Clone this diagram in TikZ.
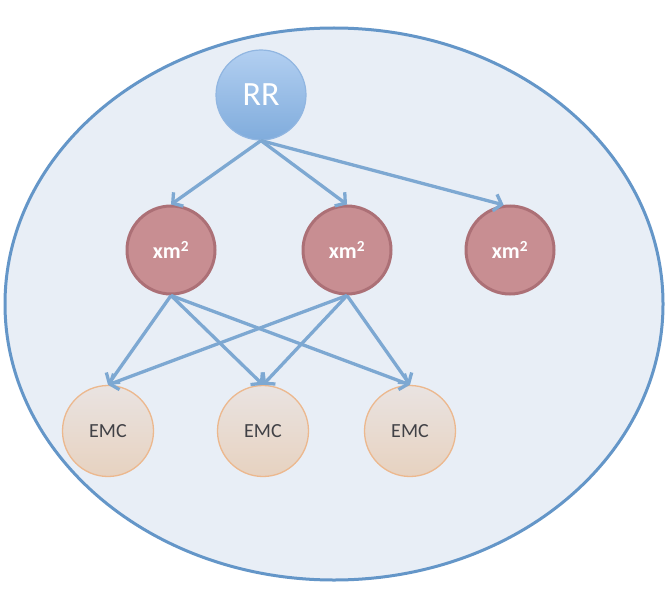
\documentclass[tikz,border=0pt]{standalone}
\usepackage{fontspec}
\setmainfont{Carlito}
\usetikzlibrary{arrows.meta}
\definecolor{ellfill}{RGB}{232,238,246}
\definecolor{elldraw}{RGB}{100,150,200}
\definecolor{arrcol}{RGB}{125,168,210}
\definecolor{rrtop}{RGB}{178,207,241}
\definecolor{rrbot}{RGB}{128,172,220}
\definecolor{rrdraw}{RGB}{145,182,225}
\definecolor{xmfill}{RGB}{200,142,146}
\definecolor{xmdraw}{RGB}{172,112,118}
\definecolor{emctop}{RGB}{233,227,225}
\definecolor{emcbot}{RGB}{231,210,192}
\definecolor{emcdraw}{RGB}{236,184,142}
\definecolor{emctext}{RGB}{65,65,70}
\tikzset{
  rrnode/.style={circle, minimum size=90pt, inner sep=0pt, top color=rrtop, bottom color=rrbot, draw=rrdraw, line width=1.2pt, text=white, font=\fontsize{34}{34}\selectfont},
  xmnode/.style={circle, minimum size=88pt, inner sep=0pt, fill=xmfill, draw=xmdraw, line width=3pt, text=white, font=\bfseries\fontsize{22}{22}\selectfont},
  emcnode/.style={circle, minimum size=91pt, inner sep=0pt, top color=emctop, bottom color=emcbot, draw=emcdraw, line width=1.3pt, text=emctext, font=\fontsize{20}{20}\selectfont},
  arr/.style={draw=arrcol, line width=3.3pt, -{Straight Barb[length=7pt,width=17pt]}}
}
\begin{document}
\begin{tikzpicture}[x=1pt,y=-1pt]
\useasboundingbox (0,0) rectangle (671,615);
\fill[white] (0,0) rectangle (671,615);
\draw[fill=ellfill, draw=elldraw, line width=3pt] (334,304) ellipse [x radius=329, y radius=276];
\node[rrnode] (rr) at (261,95) {RR};
\node[xmnode] (x1) at (171,250) {xm\textsuperscript{2}};
\node[xmnode] (x2) at (347,250) {xm\textsuperscript{2}};
\node[xmnode] (x3) at (510,250) {xm\textsuperscript{2}};
\node[emcnode] (e1) at (108,431) {EMC};
\node[emcnode] (e2) at (263,431) {EMC};
\node[emcnode] (e3) at (410,431) {EMC};
\draw[arr] (rr.south) -- (x1.north);
\draw[arr] (rr.south) -- (x2.north);
\draw[arr] (rr.south) -- (x3.98);
\draw[arr] (x1.south) -- (e1.north);
\draw[arr] (x1.south) -- (e2.north);
\draw[arr] (x1.south) -- (e3.north);
\draw[arr] (x2.south) -- (e1.north);
\draw[arr] (x2.south) -- (e2.north);
\draw[arr] (x2.south) -- (e3.north);
\end{tikzpicture}
\end{document}
